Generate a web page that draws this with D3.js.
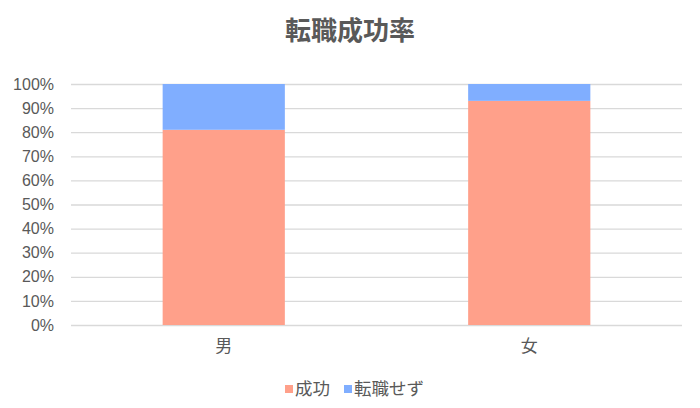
<!DOCTYPE html>
<html><head><meta charset="utf-8">
<script src="https://cdn.jsdelivr.net/npm/d3@7"></script>
<style>body{margin:0;background:#fff}svg{display:block}</style>
</head><body><svg id="c" width="700" height="408"></svg>
<script>
const title = "転職成功率";
const categories = ["男", "女"];
const seriesNames = ["成功", "転職せず"];
const success = [0.81, 0.93];
const noChange = [0.19, 0.07];
const yTicks = [0,0.1,0.2,0.3,0.4,0.5,0.6,0.7,0.8,0.9,1.0];
const colors = ["#FFA08A", "#80AEFF"];

(function(){
const svg = d3.select("#c");
const font = "'Noto Sans CJK JP', 'Noto Sans', sans-serif";
const pl = 71, pr = 682, pt = 84, pb = 325;
const x = d3.scaleBand().domain(categories).range([pl, pr]).paddingInner(0.6).paddingOuter(0.3);
const y = d3.scaleLinear().domain([0,1]).range([pb, pt]);

svg.append("text").attr("x", 350).attr("y", 40).attr("text-anchor","middle")
  .attr("font-family", font).attr("font-weight","bold").attr("font-size", 26).attr("fill","#595959").text(title);

const yAxis = d3.axisLeft(y).tickValues(yTicks).tickFormat(d3.format(".0%")).tickSize(-(pr-pl)).tickPadding(17);
const g = svg.append("g").attr("transform", `translate(${pl},0)`).call(yAxis);
g.select(".domain").remove();
g.selectAll(".tick line").attr("stroke","#d9d9d9").attr("stroke-width",1.3);
g.selectAll(".tick text").attr("font-family","Arial, 'Liberation Sans', sans-serif").attr("font-size",16).attr("fill","#595959");

const stackData = categories.map((c,i)=>({cat:c, s:success[i], n:noChange[i]}));
const stack = d3.stack().keys(["s","n"])(stackData);
svg.append("g").selectAll("g").data(stack).join("g").attr("fill",(d,i)=>colors[i])
  .selectAll("rect").data(d=>d).join("rect")
  .attr("x", d=>x(d.data.cat)).attr("width", x.bandwidth())
  .attr("y", d=>y(d[1])).attr("height", d=>y(d[0])-y(d[1]));

const xAxis = d3.axisBottom(x).tickSize(0).tickPadding(15);
const gx = svg.append("g").attr("transform",`translate(0,${pb})`).call(xAxis);
gx.select(".domain").remove();
gx.selectAll(".tick text").attr("font-family",font).attr("font-size",17).attr("fill","#595959");

const legend = svg.append("g").attr("transform","translate(0,389)");
const items = [{n:seriesNames[0], c:colors[0], x:285},{n:seriesNames[1], c:colors[1], x:344}];
items.forEach(it=>{
  legend.append("rect").attr("x",it.x).attr("y",-4).attr("width",8).attr("height",8).attr("fill",it.c);
  legend.append("text").attr("x",it.x+10).attr("y",0).attr("dy","0.35em").attr("font-family",font)
    .attr("font-size",17.5).attr("fill","#595959").text(it.n);
});
})();
</script></body></html>
